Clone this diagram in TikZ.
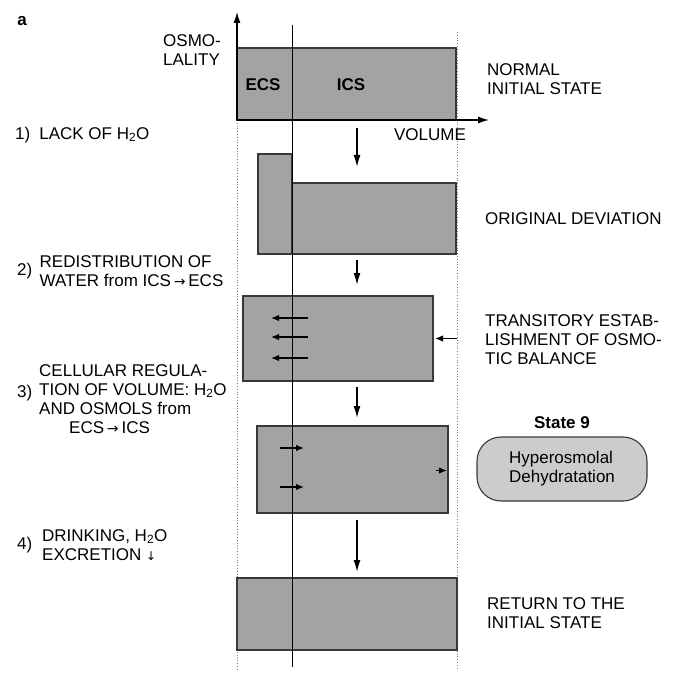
\documentclass[tikz,border=0pt]{standalone}
\usepackage{fontspec}
\setmainfont{Liberation Sans}
\newfontfamily\symfont{DejaVu Sans}
\usepackage{tikz}
\usetikzlibrary{positioning, arrows.meta, calc}
\definecolor{boxgray}{gray}{0.64}
\definecolor{capgray}{gray}{0.80}
\definecolor{rimgray}{gray}{0.22}
\newcommand{\lbfont}{\fontsize{17}{19}\selectfont}
\newcommand{\toarr}{\,{\symfont\fontsize{14}{14}\selectfont →}\,}
\newcommand{\downarr}{{\symfont\fontsize{12}{12}\selectfont ↓}}
\tikzset{
  comp/.style={rectangle, draw=rimgray, fill=boxgray, line width=1.2pt,
               inner sep=0pt, outer sep=0pt, anchor=north west},
  capsule/.style={rectangle, rounded corners=24pt, draw=rimgray, fill=capgray,
                  line width=1.1pt, minimum width=170pt, minimum height=64pt,
                  align=left, font=\lbfont},
  lbl/.style={font=\lbfont, inner sep=0pt, align=left, anchor=west},
  blbl/.style={font=\lbfont\bfseries, inner sep=0pt},
  axis/.style={-{Latex[length=11pt,width=7pt]}, line width=1.3pt},
  flow/.style={-{Latex[length=12pt,width=7pt]}, line width=1.5pt},
  tinyarr/.style={-{Latex[length=8pt,width=6.5pt]}, line width=1.4pt},
  guide/.style={gray, dotted, line width=0.8pt},
}

\begin{document}
\begin{tikzpicture}[x=1pt, y=-1pt]
  \useasboundingbox (0,0) rectangle (687,676);

  % axes and guide lines
  \coordinate (o) at (237,120);
  \coordinate (ytip) at (237,12);
  \coordinate (xtip) at (489,120);
  \coordinate (glbot) at (237,670);
  \coordinate (grtop) at (457,32);
  \coordinate (grbot) at (457,670);
  \coordinate (cltop) at (292,25);
  \coordinate (clbot) at (292,667);
  \coordinate (ax) at (357,0);
  \draw[guide] (o) -- (glbot);
  \draw[guide] (grtop) -- (grbot);

  % the states
  \node[comp, minimum width=219pt, minimum height=72pt] (s1) at (237,48) {};
  \node[comp, minimum width=34pt, minimum height=100pt] (s2e) at (258,154) {};
  \node[comp, minimum width=164pt, minimum height=71pt] (s2i) at (292,183) {};
  \node[comp, minimum width=190pt, minimum height=85pt] (s3) at (243,296) {};
  \node[comp, minimum width=191pt, minimum height=87pt] (s4) at (257,426) {};
  \node[comp, minimum width=220pt, minimum height=72pt] (s5) at (237,578) {};

  \draw[line width=1pt] (cltop) -- (clbot);
  \draw[axis] (o) -- (ytip);
  \draw[axis] (o) -- (xtip);

  \node[blbl] (ecs) at (263,85) {ECS};
  \node[blbl] (ics) at (351,85) {ICS};

  % transitions
  \draw[flow, shorten <=8pt, shorten >=16pt] (s1.south -| ax) -- (s2i.north -| ax);
  \draw[flow, shorten <=6pt, shorten >=11pt] (s2i.south -| ax) -- (s3.north -| ax);
  \draw[flow, shorten <=6pt, shorten >=8pt] (s3.south -| ax) -- (s4.north -| ax);
  \draw[flow, shorten <=7pt, shorten >=6pt] (s4.south -| ax) -- (s5.north -| ax);

  % water shifts
  \foreach \dy in {22,41,62}
    \draw[tinyarr] ($(s3.north west)+(65,\dy)$) -- ($(s3.north west)+(28,\dy)$);
  \draw[tinyarr] ($(s3.east)+(24,0)$) -- ($(s3.east)+(2,0)$);
  \foreach \dy in {22,61}
    \draw[tinyarr] ($(s4.north west)+(23,\dy)$) -- ($(s4.north west)+(47,\dy)$);
  \draw[tinyarr] ($(s4.east)+(-12,1)$) -- ($(s4.east)+(-1,1)$);

  % axis labels
  \node[lbl, anchor=east] (osmo) at (221,50) {OSMO-\\LALITY};
  \node[lbl, anchor=center] (vol) at (430,135) {VOLUME};
  \node[blbl, anchor=center] (pa) at (22,21) {a};

  % steps on the left
  \node[lbl] (t1) at (15,135) {1)\hspace{9pt}LACK OF H\textsubscript{2}O};
  \node[lbl] (n2) at (17,271) {2)};
  \node[lbl, right=7pt of n2] (t2) {REDISTRIBUTION OF\\WATER from ICS\toarr ECS};
  \node[lbl] (n3) at (17,393) {3)};
  \node[lbl] (t3) at (39,399) {CELLULAR REGULA-\\TION OF VOLUME: H\textsubscript{2}O\\AND OSMOLS from\\\hspace*{30pt}ECS\toarr ICS};
  \node[lbl] (n4) at (17,545) {4)};
  \node[lbl] (t4) at (42,545) {DRINKING, H\textsubscript{2}O\\EXCRETION \downarr};

  % states on the right
  \node[lbl] (r1) at (487,79) {NORMAL\\INITIAL STATE};
  \node[lbl] (r2) at (485,219) {ORIGINAL DEVIATION};
  \node[lbl] (r3) at (485,340) {TRANSITORY ESTAB-\\LISHMENT OF OSMO-\\TIC BALANCE};
  \node[capsule] (hyp) at (562,469) {Hyperosmolal\\Dehydratation};
  \node[blbl, above=8pt of hyp] (st9) {State 9};
  \node[lbl] (r5) at (487,613) {RETURN TO THE\\INITIAL STATE};
\end{tikzpicture}
\end{document}
